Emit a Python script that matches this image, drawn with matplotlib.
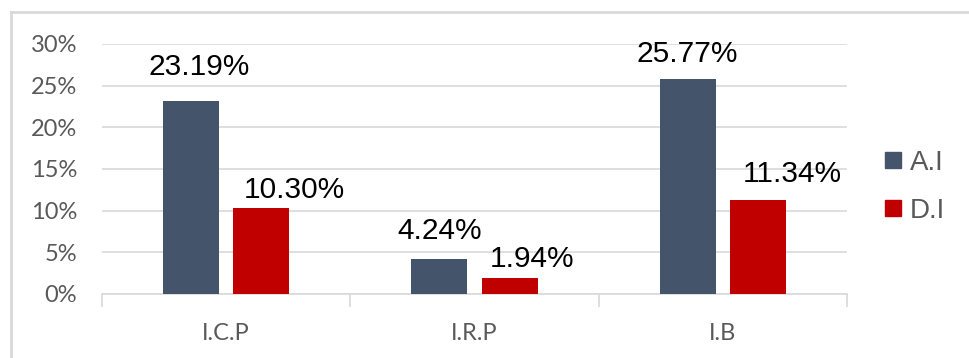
import matplotlib
matplotlib.use('Agg')
import matplotlib.pyplot as plt
from matplotlib.lines import Line2D
import numpy as np

categories = ['I.C.P', 'I.R.P', 'I.B']
series_names = ['A.I', 'D.I']
ai_values = [23.19, 4.24, 25.77]
di_values = [10.30, 1.94, 11.34]
ai_labels = ['23.19%', '4.24%', '25.77%']
di_labels = ['10.30%', '1.94%', '11.34%']
yticks = [0, 5, 10, 15, 20, 25, 30]
ytick_labels = ['0%', '5%', '10%', '15%', '20%', '25%', '30%']

# label offsets in pixels (dx, gap above bar top) – hand placed in the original
ai_offsets = [(8, 26), (0, 20), (-1, 17)]
di_offsets = [(33, 10), (23, 11), (34, 17)]

C_AI = '#44546A'
C_DI = '#C00000'
GRID = '#D9D9D9'
TXT = '#595959'

W, H = 969, 358
fig = plt.figure(figsize=(W / 100, H / 100), dpi=100)
ax = fig.add_axes([102 / W, 1 - 294 / H, (847 - 102) / W, 250 / H])

x = np.arange(len(categories))
bw = 0.2255
off = 0.141
ax.bar(x - off, ai_values, bw, color=C_AI, zorder=3)
ax.bar(x + off, di_values, bw, color=C_DI, zorder=3)

ax.set_xlim(-0.5, len(categories) - 0.5)
ax.set_ylim(0, 30)
ax.set_yticks(yticks)
ax.set_yticklabels(ytick_labels)
ax.yaxis.grid(True, color=GRID, lw=1.2)
ax.set_axisbelow(True)
for s in ['top', 'right', 'left']:
    ax.spines[s].set_visible(False)
ax.spines['bottom'].set_color(GRID)
ax.spines['bottom'].set_linewidth(1.2)

ax.set_xticks(x)
ax.set_xticklabels(categories)
ax.set_xticks(np.arange(-0.5, len(categories)), minor=True)
ax.tick_params(axis='x', which='major', length=0, pad=21)
ax.tick_params(axis='x', which='minor', length=9, width=1.2, color=GRID)
ax.tick_params(axis='y', length=0, pad=18)

tick_font = ['Lato', 'DejaVu Sans']
for lab in ax.get_xticklabels() + ax.get_yticklabels():
    lab.set_family(tick_font)
    lab.set_fontsize(17)
    lab.set_color(TXT)

for i in range(len(categories)):
    dx, gap = ai_offsets[i]
    ax.annotate(ai_labels[i], xy=(x[i] - off, ai_values[i]),
                xytext=(dx * 0.72, gap * 0.72), textcoords='offset points',
                ha='center', va='baseline', fontsize=21.5,
                family='Liberation Sans', color='black')
    dx, gap = di_offsets[i]
    ax.annotate(di_labels[i], xy=(x[i] + off, di_values[i]),
                xytext=(dx * 0.72, gap * 0.72), textcoords='offset points',
                ha='center', va='baseline', fontsize=21.5,
                family='Liberation Sans', color='black')

handles = [Line2D([], [], marker='s', ls='', ms=11, color=C_AI, label=series_names[0]),
           Line2D([], [], marker='s', ls='', ms=11, color=C_DI, label=series_names[1])]
leg = fig.legend(handles=handles, loc='center left',
                 bbox_to_anchor=(885 / W, 1 - 187 / H), frameon=False,
                 prop={'family': 'Liberation Sans', 'size': 20},
                 handlelength=0.6, handletextpad=0.3, labelspacing=0.8,
                 borderaxespad=0, borderpad=0)
for t in leg.get_texts():
    t.set_color(TXT)

# outer chart frame (cut off at right and bottom)
fig.add_artist(Line2D([11 / W, 1], [1 - 12 / H, 1 - 12 / H],
                      transform=fig.transFigure, color=GRID, lw=2))
fig.add_artist(Line2D([11 / W, 11 / W], [0, 1 - 12 / H],
                      transform=fig.transFigure, color=GRID, lw=2))

fig.savefig('out.png', dpi=100)
